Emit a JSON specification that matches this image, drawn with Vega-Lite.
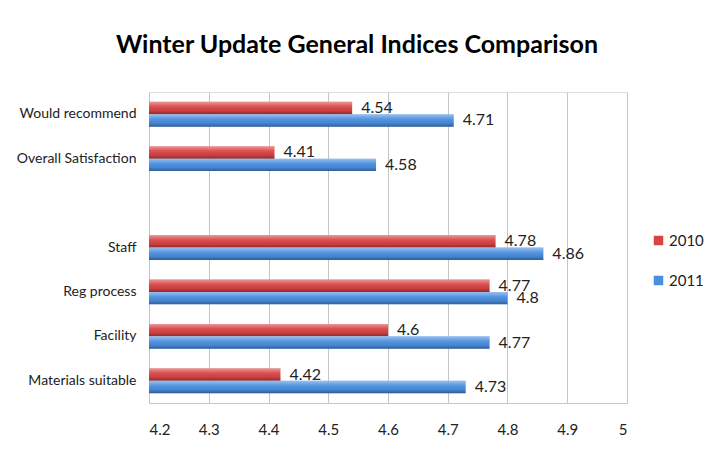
{
  "$schema": "https://vega.github.io/schema/vega-lite/v6.json",
  "width": 478,
  "height": 311,
  "autosize": {"type": "none"},
  "padding": {"left": 149, "top": 92, "right": 79, "bottom": 47},
  "background": "white",
  "title": {
    "text": "Winter Update General Indices Comparison",
    "font": "Lato, sans-serif",
    "fontSize": 25,
    "fontWeight": "bold",
    "color": "#000000",
    "anchor": "middle",
    "frame": "group",
    "dx": -31,
    "offset": 34
  },
  "data": {
    "values": [
      {"cat": "Would recommend", "year": "2010", "value": 4.54},
      {"cat": "Would recommend", "year": "2011", "value": 4.71},
      {"cat": "Overall Satisfaction", "year": "2010", "value": 4.41},
      {"cat": "Overall Satisfaction", "year": "2011", "value": 4.58},
      {"cat": "Staff", "year": "2010", "value": 4.78},
      {"cat": "Staff", "year": "2011", "value": 4.86},
      {"cat": "Reg process", "year": "2010", "value": 4.77},
      {"cat": "Reg process", "year": "2011", "value": 4.8},
      {"cat": "Facility", "year": "2010", "value": 4.6},
      {"cat": "Facility", "year": "2011", "value": 4.77},
      {"cat": "Materials suitable", "year": "2010", "value": 4.42},
      {"cat": "Materials suitable", "year": "2011", "value": 4.73}
    ]
  },
  "encoding": {
    "y": {
      "field": "cat",
      "type": "nominal",
      "scale": {
        "domain": ["Would recommend", "Overall Satisfaction", " ", "Staff", "Reg process", "Facility", "Materials suitable"],
        "paddingInner": 0.44,
        "paddingOuter": 0.22
      },
      "axis": {
        "title": null,
        "ticks": false,
        "domain": false,
        "labelPadding": 13,
        "labelFont": "Lato, sans-serif",
        "labelFontSize": 14,
        "labelColor": "#222222"
      }
    },
    "yOffset": {
      "field": "year",
      "type": "nominal",
      "scale": {"domain": ["2010", "2011"], "paddingInner": 0, "paddingOuter": 0}
    },
    "x": {
      "field": "value",
      "type": "quantitative",
      "scale": {"domain": [4.2, 5], "zero": false, "nice": false},
      "axis": {
        "title": null,
        "values": [4.2, 4.3, 4.4, 4.5, 4.6, 4.7, 4.8, 4.9, 5],
        "format": "~f",
        "ticks": false,
        "labelPadding": 19,
        "labelFont": "Lato, sans-serif",
        "labelFontSize": 15,
        "labelColor": "#222222",
        "domainColor": "#c8c8c8",
        "gridColor": "#c4c4c4",
        "gridWidth": 1
      }
    }
  },
  "layer": [
    {
      "mark": {"type": "bar"},
      "encoding": {
        "x2": {"datum": 4.2},
        "color": {
          "field": "year",
          "type": "nominal",
          "scale": {"domain": ["2010", "2011"], "range": ["#d94343", "#4a8ee0"]},
          "legend": {
            "title": null,
            "orient": "none",
            "legendX": 502,
            "legendY": 141,
            "symbolType": "square",
            "symbolSize": 90,
            "symbolStrokeWidth": 0,
            "labelFont": "Lato, sans-serif",
            "labelFontSize": 15,
            "labelColor": "#222222",
            "labelOffset": 3,
            "rowPadding": 24
          }
        }
      }
    },
    {
      "mark": {
        "type": "bar",
        "color": {
          "gradient": "linear",
          "x1": 0, "y1": 0, "x2": 0, "y2": 1,
          "stops": [
            {"offset": 0, "color": "rgba(255,255,255,0.45)"},
            {"offset": 0.35, "color": "rgba(255,255,255,0.1)"},
            {"offset": 0.7, "color": "rgba(0,0,0,0.05)"},
            {"offset": 1, "color": "rgba(0,0,0,0.35)"}
          ]
        }
      },
      "encoding": {"x2": {"datum": 4.2}}
    },
    {
      "mark": {
        "type": "text",
        "align": "left",
        "baseline": "middle",
        "dx": 9,
        "font": "Lato, sans-serif",
        "fontSize": 16,
        "color": "#222222"
      },
      "encoding": {"text": {"field": "value", "type": "nominal"}}
    }
  ]
}
